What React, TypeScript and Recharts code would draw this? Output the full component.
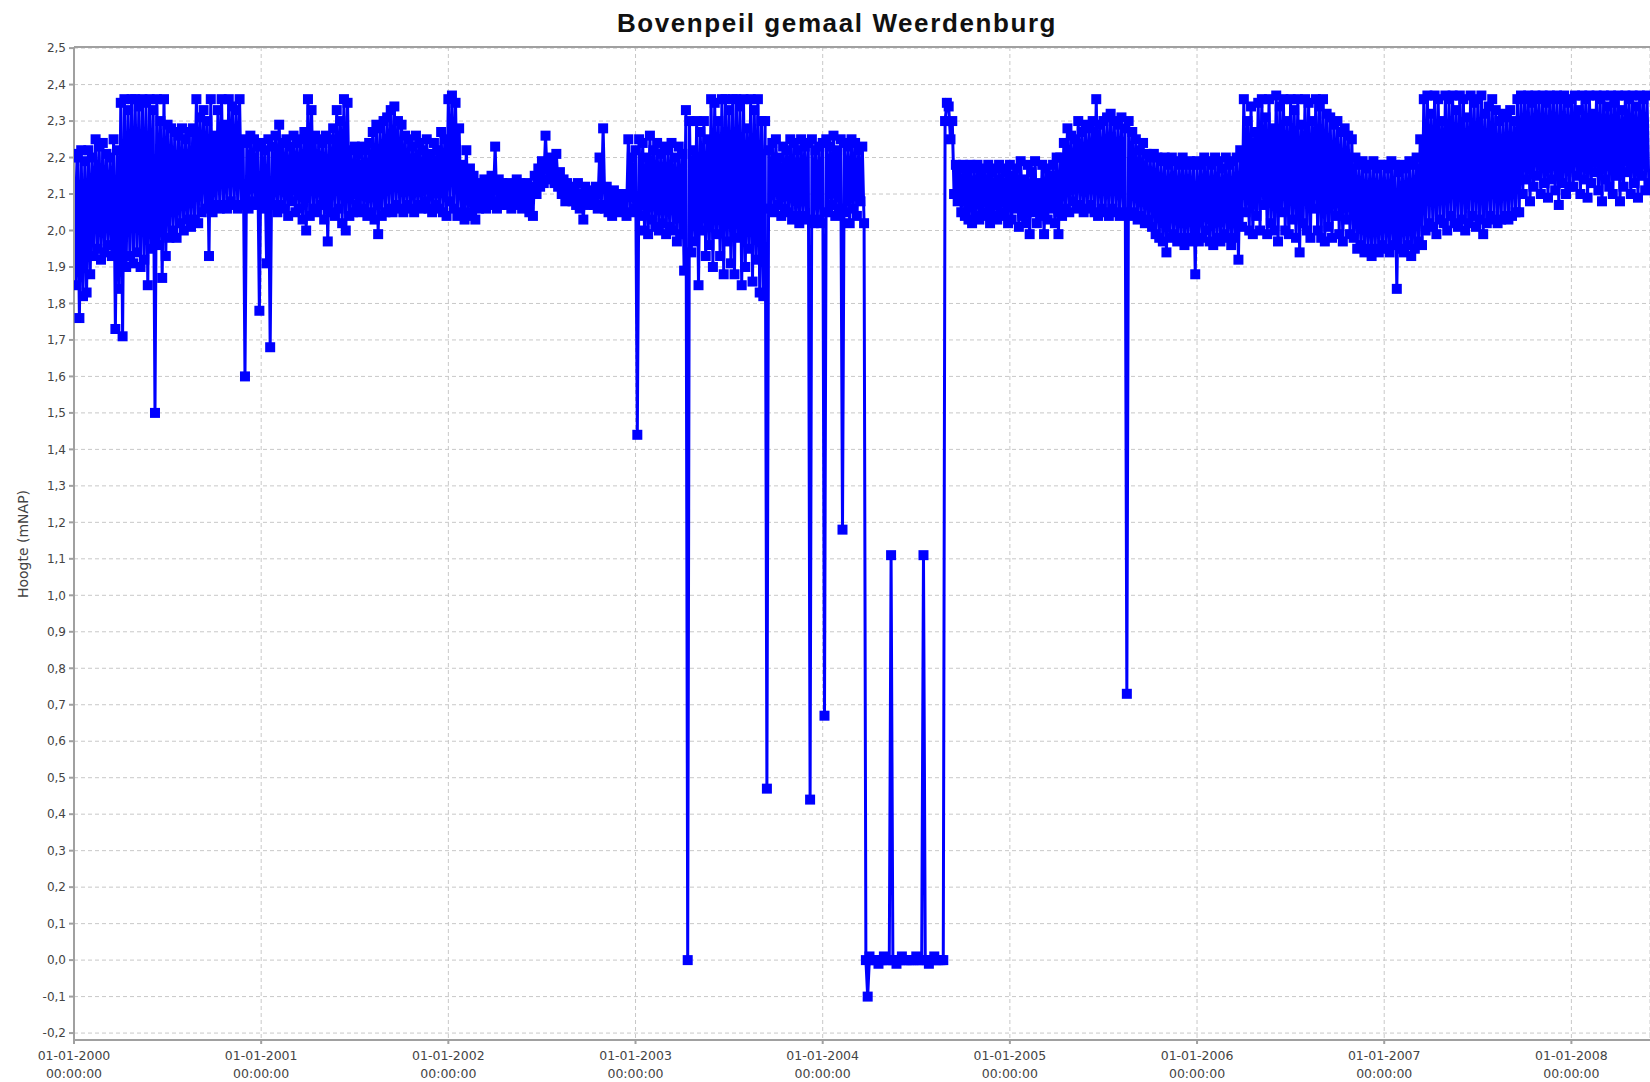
import React from 'react';
import { CartesianGrid, Line, LineChart, ReferenceLine, XAxis, YAxis } from 'recharts';

// weekly high / low readings (52 weeks per year), mNAP
const hi2000 = [2.21, 2.2, 2.22, 2.19, 2.22, 2.2, 2.25, 2.23, 2.24, 2.21, 2.2, 2.25, 2.22, 2.35, 2.36, 2.33, 2.36, 2.36, 2.34, 2.36, 2.35, 2.36, 2.33, 2.36, 2.3, 2.36, 2.29, 2.28, 2.27, 2.26, 2.28, 2.25, 2.27, 2.28, 2.36, 2.31, 2.33, 2.3, 2.36, 2.26, 2.33, 2.36, 2.29, 2.36, 2.34, 2.33, 2.36, 2.25, 2.24, 2.26, 2.25, 2.23];
const lo2000 = [1.85, 1.76, 1.82, 1.83, 1.88, 1.93, 1.95, 1.92, 1.94, 1.96, 1.93, 1.73, 1.84, 1.71, 1.9, 1.93, 1.91, 1.94, 1.9, 1.92, 1.85, 1.95, 1.5, 1.96, 1.87, 1.93, 1.98, 2.0, 1.98, 2.02, 2.0, 2.03, 2.01, 2.03, 2.02, 2.05, 2.06, 1.93, 2.05, 2.07, 2.06, 2.07, 2.06, 2.08, 2.07, 2.06, 2.07, 1.6, 2.06, 2.08, 2.07, 1.78];
const hi2001 = [2.24, 2.22, 2.25, 2.23, 2.26, 2.29, 2.24, 2.25, 2.23, 2.26, 2.24, 2.25, 2.27, 2.36, 2.33, 2.26, 2.25, 2.24, 2.26, 2.25, 2.28, 2.33, 2.3, 2.36, 2.35, 2.22, 2.23, 2.21, 2.23, 2.22, 2.24, 2.27, 2.29, 2.28, 2.3, 2.31, 2.33, 2.34, 2.3, 2.29, 2.26, 2.25, 2.23, 2.26, 2.24, 2.22, 2.25, 2.21, 2.24, 2.22, 2.27, 2.25];
const lo2001 = [2.06, 1.91, 1.68, 2.07, 2.05, 2.07, 2.06, 2.04, 2.08, 2.05, 2.06, 2.03, 2.0, 2.04, 2.06, 2.05, 2.07, 2.03, 1.97, 2.05, 2.04, 2.06, 2.02, 2.0, 2.04, 2.05, 2.07, 2.05, 2.06, 2.04, 2.05, 2.03, 1.99, 2.04, 2.05, 2.06, 2.05, 2.07, 2.06, 2.05, 2.07, 2.06, 2.05, 2.07, 2.06, 2.08, 2.06, 2.05, 2.07, 2.06, 2.05, 2.04];
const hi2002 = [2.36, 2.37, 2.35, 2.28, 2.18, 2.22, 2.17, 2.15, 2.13, 2.12, 2.14, 2.13, 2.15, 2.23, 2.14, 2.13, 2.12, 2.13, 2.12, 2.14, 2.13, 2.12, 2.13, 2.12, 2.15, 2.17, 2.19, 2.26, 2.2, 2.19, 2.21, 2.16, 2.14, 2.13, 2.12, 2.11, 2.13, 2.1, 2.12, 2.11, 2.1, 2.12, 2.2, 2.28, 2.12, 2.1, 2.11, 2.1, 2.09, 2.1, 2.25, 2.2];
const lo2002 = [2.08, 2.06, 2.04, 2.05, 2.03, 2.05, 2.04, 2.03, 2.06, 2.07, 2.06, 2.07, 2.08, 2.06, 2.07, 2.08, 2.07, 2.06, 2.08, 2.07, 2.06, 2.07, 2.05, 2.04, 2.1, 2.12, 2.13, 2.14, 2.15, 2.13, 2.12, 2.1, 2.08, 2.09, 2.08, 2.07, 2.06, 2.03, 2.07, 2.08, 2.07, 2.06, 2.07, 2.06, 2.05, 2.04, 2.06, 2.05, 2.06, 2.04, 2.05, 2.06];
const hi2003 = [2.22, 2.25, 2.24, 2.2, 2.26, 2.22, 2.24, 2.21, 2.23, 2.22, 2.24, 2.2, 2.23, 2.21, 2.33, 2.3, 2.22, 2.3, 2.27, 2.3, 2.25, 2.36, 2.35, 2.3, 2.36, 2.36, 2.33, 2.36, 2.36, 2.34, 2.36, 2.28, 2.36, 2.33, 2.36, 2.3, 2.3, 2.22, 2.24, 2.25, 2.2, 2.23, 2.22, 2.25, 2.24, 2.22, 2.25, 2.23, 2.24, 2.25, 2.22, 2.23];
const lo2003 = [1.44, 2.04, 2.0, 1.99, 2.03, 2.01, 2.0, 2.02, 1.99, 2.01, 2.0, 1.97, 1.99, 1.89, 0.0, 1.94, 1.97, 1.85, 2.0, 1.93, 1.96, 1.9, 1.99, 1.93, 1.88, 1.97, 1.91, 1.88, 1.98, 1.85, 1.9, 1.95, 1.86, 1.92, 1.83, 1.82, 0.47, 2.06, 2.05, 2.07, 2.04, 2.06, 2.05, 2.03, 2.04, 2.02, 2.04, 2.03, 0.44, 2.02, 2.03, 2.02];
const hi2004 = [2.24, 2.25, 2.23, 2.26, 2.22, 2.25, 2.24, 2.23, 2.25, 2.24, 2.22, 2.23, 0.0, 0.01, 0.0, 0.0, 0.0, 0.01, 0.0, 1.11, 0.0, 0.0, 0.01, 0.0, 0.0, 0.0, 0.01, 0.0, 1.11, 0.0, 0.0, 0.01, 0.0, 0.0, 2.3, 2.34, 2.3, 2.18, 2.17, 2.18, 2.16, 2.18, 2.17, 2.18, 2.16, 2.17, 2.18, 2.16, 2.17, 2.18, 2.17, 2.16];
const lo2004 = [0.67, 2.05, 2.07, 2.04, 2.06, 1.18, 2.05, 2.02, 2.06, 2.04, 2.08, 2.02, -0.1, 0.0, 0.0, -0.01, 0.0, 0.0, 0.0, 0.0, -0.01, 0.0, 0.0, 0.0, 0.0, 0.0, 0.0, 0.0, 0.0, -0.01, 0.0, 0.0, 0.0, 0.0, 2.35, 2.25, 2.1, 2.08, 2.05, 2.04, 2.03, 2.02, 2.04, 2.03, 2.05, 2.04, 2.02, 2.04, 2.03, 2.05, 2.04, 2.02];
const hi2005 = [2.18, 2.15, 2.17, 2.19, 2.14, 2.18, 2.16, 2.19, 2.13, 2.18, 2.17, 2.15, 2.18, 2.2, 2.2, 2.24, 2.28, 2.26, 2.25, 2.3, 2.27, 2.29, 2.28, 2.3, 2.36, 2.29, 2.3, 2.31, 2.32, 2.3, 2.29, 2.31, 2.28, 2.3, 2.27, 2.25, 2.22, 2.24, 2.21, 2.2, 2.21, 2.2, 2.19, 2.2, 2.18, 2.2, 2.19, 2.18, 2.2, 2.18, 2.19, 2.18];
const lo2005 = [2.03, 2.06, 2.01, 2.04, 2.02, 1.99, 2.05, 2.02, 2.04, 1.99, 2.03, 2.06, 2.02, 1.99, 2.04, 2.06, 2.05, 2.08, 2.06, 2.07, 2.05, 2.06, 2.07, 2.05, 2.04, 2.06, 2.05, 2.04, 2.06, 2.05, 2.04, 2.05, 0.73, 2.04, 2.05, 2.03, 2.04, 2.02, 2.03, 2.01, 1.99, 1.98, 1.97, 1.94, 1.98, 1.99, 1.97, 1.98, 1.96, 1.98, 1.97, 1.88];
const hi2006 = [2.19, 2.18, 2.2, 2.19, 2.18, 2.2, 2.19, 2.17, 2.2, 2.18, 2.19, 2.2, 2.22, 2.36, 2.3, 2.34, 2.27, 2.35, 2.36, 2.31, 2.36, 2.28, 2.37, 2.34, 2.36, 2.3, 2.36, 2.33, 2.36, 2.29, 2.36, 2.35, 2.3, 2.36, 2.34, 2.36, 2.32, 2.31, 2.29, 2.3, 2.27, 2.28, 2.26, 2.25, 2.2, 2.18, 2.19, 2.17, 2.18, 2.19, 2.17, 2.18];
const lo2006 = [1.97, 1.98, 2.0, 1.97, 1.96, 1.98, 1.97, 1.99, 1.98, 1.96, 1.98, 1.92, 2.01, 2.05, 2.0, 1.99, 2.04, 2.0, 2.07, 1.99, 2.02, 2.0, 1.97, 2.05, 2.0, 1.99, 2.03, 1.98, 1.94, 2.02, 2.0, 1.98, 2.06, 2.0, 1.98, 1.97, 2.01, 1.98, 2.04, 1.99, 1.97, 2.03, 1.99, 1.98, 1.95, 1.96, 1.94, 1.95, 1.93, 1.95, 1.94, 1.96];
const hi2007 = [2.18, 2.17, 2.19, 2.18, 2.16, 2.18, 2.17, 2.19, 2.18, 2.2, 2.25, 2.36, 2.37, 2.32, 2.37, 2.36, 2.3, 2.37, 2.36, 2.37, 2.33, 2.37, 2.36, 2.31, 2.37, 2.35, 2.36, 2.37, 2.32, 2.34, 2.36, 2.33, 2.3, 2.32, 2.31, 2.33, 2.3, 2.36, 2.37, 2.36, 2.37, 2.35, 2.37, 2.36, 2.37, 2.35, 2.37, 2.36, 2.37, 2.36, 2.37, 2.35];
const lo2007 = [1.95, 1.94, 1.96, 1.84, 1.95, 1.94, 1.96, 1.93, 1.95, 1.97, 1.96, 2.0, 2.02, 2.01, 1.99, 2.03, 2.02, 2.0, 2.04, 2.02, 2.01, 2.03, 2.0, 2.02, 2.04, 2.01, 2.03, 1.99, 2.02, 2.04, 2.03, 2.02, 2.03, 2.04, 2.03, 2.04, 2.05, 2.05, 2.1, 2.14, 2.08, 2.12, 2.15, 2.1, 2.13, 2.09, 2.14, 2.11, 2.07, 2.13, 2.1, 2.12];
const hi2008 = [2.36, 2.37, 2.33, 2.37, 2.36, 2.37, 2.32, 2.37, 2.36, 2.37, 2.34, 2.37, 2.35, 2.37, 2.33, 2.37, 2.36, 2.37, 2.34, 2.37, 2.36, 2.37];
const lo2008 = [2.12, 2.15, 2.1, 2.14, 2.09, 2.13, 2.16, 2.11, 2.08, 2.14, 2.12, 2.1, 2.15, 2.08, 2.12, 2.16, 2.1, 2.13, 2.09, 2.15, 2.11, 2.13];

const years = [2000, 2001, 2002, 2003, 2004, 2005, 2006, 2007, 2008];
const highs = [hi2000, hi2001, hi2002, hi2003, hi2004, hi2005, hi2006, hi2007, hi2008];
const lows = [lo2000, lo2001, lo2002, lo2003, lo2004, lo2005, lo2006, lo2007, lo2008];
const yTicks = [-0.2, -0.1, 0.0, 0.1, 0.2, 0.3, 0.4, 0.5, 0.6, 0.7, 0.8, 0.9, 1.0, 1.1, 1.2, 1.3, 1.4, 1.5, 1.6, 1.7, 1.8, 1.9, 2.0, 2.1, 2.2, 2.3, 2.4, 2.5];

// high reading early in the week, low reading mid-week
const data = years.flatMap((yr, k) =>
  highs[k].flatMap((h, i) => [
    { t: yr + i / 52, peil: h },
    { t: yr + (i + 0.5) / 52, peil: lows[k][i] },
  ])
);

const BLUE = '#0000ff';

function SquareDot(props: any) {
  const { cx, cy, index } = props;
  if (cx == null || cy == null) return <g key={index} />;
  return <rect key={index} x={cx - 5} y={cy - 5} width={10} height={10} fill={BLUE} />;
}

function DateTick(props: any) {
  const { x, y, payload } = props;
  return (
    <text x={x} y={y} textAnchor="middle" fill="#444" fontSize={12.5} fontFamily="DejaVu Sans, sans-serif">
      <tspan x={x} dy={16}>{`01-01-${payload.value}`}</tspan>
      <tspan x={x} dy={18}>00:00:00</tspan>
    </text>
  );
}

export default function App() {
  return (
    <div style={{ position: 'absolute', left: 0, top: 0, width: 1650, height: 1082, background: '#fff' }}>
      <div
        style={{
          position: 'absolute',
          left: 0,
          width: 1674,
          top: 8,
          textAlign: 'center',
          fontFamily: 'Liberation Sans, Arial, sans-serif',
          fontWeight: 'bold',
          fontSize: 26,
          letterSpacing: 1.6,
          color: '#111',
        }}
      >
        Bovenpeil gemaal Weerdenburg
      </div>
      <div
        style={{
          position: 'absolute',
          left: 23,
          top: 544,
          transform: 'translate(-50%, -50%) rotate(-90deg)',
          whiteSpace: 'nowrap',
          fontFamily: 'DejaVu Sans, sans-serif',
          fontSize: 14,
          color: '#444',
        }}
      >
        Hoogte (mNAP)
      </div>
      <LineChart width={1650} height={1082} data={data} margin={{ top: 47, right: 0, left: 0, bottom: 0 }}>
        <CartesianGrid stroke="#c8c8c8" strokeDasharray="4 3" />
        <XAxis
          dataKey="t"
          type="number"
          domain={[2000, 2008.42]}
          ticks={years}
          allowDataOverflow
          height={42}
          tickSize={4}
          tickMargin={0}
          tick={<DateTick />}
          stroke="#a0a0a0"
          strokeWidth={2}
          interval={0}
        />
        <YAxis
          type="number"
          domain={[-0.219, 2.503]}
          ticks={yTicks}
          allowDataOverflow
          width={74}
          tickSize={5}
          tickMargin={3}
          interval={0}
          tickFormatter={(v: number) => v.toFixed(1).replace('.', ',')}
          tick={{ fill: '#444', fontSize: 12, fontFamily: 'DejaVu Sans, sans-serif' }}
          stroke="#a0a0a0"
          strokeWidth={2}
        />
        <ReferenceLine y={2.503} stroke="#a0a0a0" strokeWidth={2} />
        <Line
          type="linear"
          dataKey="peil"
          stroke={BLUE}
          strokeWidth={3}
          dot={(p: any) => <SquareDot key={p.index} {...p} />}
          activeDot={false}
          isAnimationActive={false}
        />
      </LineChart>
    </div>
  );
}
